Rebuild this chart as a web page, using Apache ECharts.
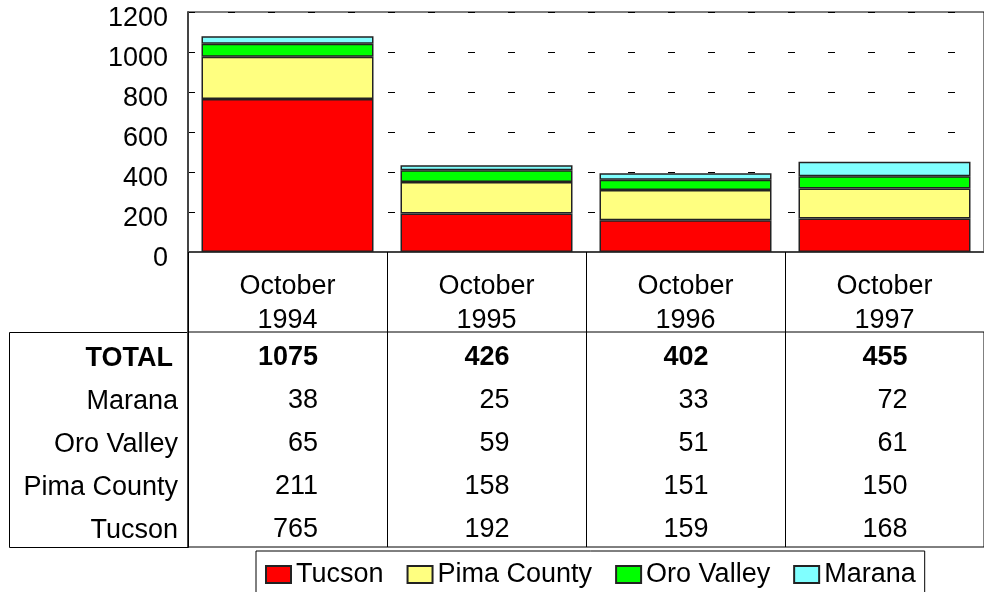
<!DOCTYPE html>
<html>
<head>
<meta charset="utf-8">
<script src="https://cdn.jsdelivr.net/npm/echarts@6/dist/echarts.min.js"></script>
<style>
  html, body { margin: 0; padding: 0; background: #fff; }
  #chart { width: 984px; height: 592px; }
</style>
</head>
<body>
<div id="chart"></div>
<script>
const months = ['October\n1994', 'October\n1995', 'October\n1996', 'October\n1997']
const rowNames = ['TOTAL', 'Marana', 'Oro Valley', 'Pima County', 'Tucson']

const tucson = [765, 192, 159, 168]
const pimaCounty = [211, 158, 151, 150]
const oroValley = [65, 59, 51, 61]
const marana = [38, 25, 33, 72]
const total = [1075, 426, 402, 455]

const yTicks = { min: 0, max: 1200, interval: 200 }

const FONT = 'Liberation Sans, Arial, sans-serif'
const FS = 27

// table rows, same order as rowNames
const tableRows = [total, marana, oroValley, pimaCounty, tucson]

// numbers sit right aligned in a block as wide as the widest number of the column
const ctx = document.createElement('canvas').getContext('2d')
ctx.font = 'bold ' + FS + 'px ' + FONT
const colWidth = months.map((m, ci) => {
  let w = 0
  tableRows.forEach(r => { w = Math.max(w, ctx.measureText(String(r[ci])).width) })
  return Math.ceil(w)
})

const cells = []
tableRows.forEach((row, ri) => {
  row.forEach((v, ci) => {
    cells.push({
      value: [ci, ri, v],
      label: {
        rich: {
          n: { width: colWidth[ci], align: 'right', fontSize: FS, fontFamily: FONT, color: '#000' },
          t: { width: colWidth[ci], align: 'right', fontSize: FS, fontFamily: FONT, color: '#000', fontWeight: 'bold' }
        }
      }
    })
  })
})

const barStyle = (color) => ({ color: color, borderColor: '#222', borderWidth: 1.5 })

const chart = echarts.init(document.getElementById('chart'))

chart.setOption({
  animation: false,
  textStyle: { fontFamily: FONT, color: '#000' },
  grid: [
    { left: 188, top: 12, width: 807, height: 240, show: true, borderColor: '#000', borderWidth: 1 },
    { left: 188, top: 332, width: 807, height: 215, show: true, borderColor: '#000', borderWidth: 1 }
  ],
  xAxis: [
    {
      type: 'category',
      gridIndex: 0,
      data: months,
      axisLine: { lineStyle: { color: '#444', width: 2 } },
      axisTick: { show: true, interval: 0, length: 80, lineStyle: { color: '#000', width: 1 } },
      axisLabel: { interval: 0, fontSize: FS, lineHeight: 34, margin: 18, color: '#000', fontFamily: FONT }
    },
    {
      type: 'category',
      gridIndex: 1,
      data: months,
      axisLine: { show: false },
      axisTick: { show: false },
      axisLabel: { show: false },
      splitLine: { show: true, interval: 0, lineStyle: { color: '#000', width: 1 } }
    }
  ],
  yAxis: [
    {
      type: 'value',
      gridIndex: 0,
      min: yTicks.min,
      max: yTicks.max,
      interval: yTicks.interval,
      axisLine: { show: true, lineStyle: { color: '#444', width: 2 } },
      axisTick: { show: false },
      axisLabel: {
        margin: 20,
        formatter: (v) => '{a|' + v + '}',
        rich: { a: { fontSize: FS, fontFamily: FONT, color: '#000', padding: [13, 0, 0, 0] } }
      },
      splitLine: { show: true, lineStyle: { color: '#000', width: 1, type: [7, 33] } }
    },
    {
      type: 'category',
      gridIndex: 1,
      inverse: true,
      data: rowNames,
      axisLine: { show: false },
      axisTick: { show: false },
      axisLabel: {
        margin: 10,
        formatter: (v) => v === 'TOTAL' ? '{b|' + v + '}' : '{r|' + v + '}',
        rich: {
          b: { fontSize: FS, fontFamily: FONT, fontWeight: 'bold', color: '#000', padding: [0, 5, 0, 0], lineHeight: 38, verticalAlign: 'bottom' },
          r: { fontSize: FS, fontFamily: FONT, color: '#000', lineHeight: 38, verticalAlign: 'bottom' }
        }
      }
    }
  ],
  legend: {
    left: 256,
    top: 551,
    orient: 'horizontal',
    padding: [10, 9, 10, 9],
    itemGap: 23,
    itemWidth: 25,
    itemHeight: 17,
    icon: 'rect',
    borderColor: '#000',
    borderWidth: 1,
    selectedMode: false,
    textStyle: { fontSize: FS, fontFamily: FONT, color: '#000' },
    data: ['Tucson', 'Pima County', 'Oro Valley', 'Marana']
  },
  graphic: [
    {
      type: 'rect',
      shape: { x: 9.5, y: 332.5, width: 179, height: 215 },
      style: { fill: 'none', stroke: '#000', lineWidth: 1 },
      silent: true
    },
    {
      type: 'line',
      shape: { x1: 188, y1: 252, x2: 188, y2: 547 },
      style: { stroke: '#444', lineWidth: 2 },
      silent: true
    }
  ],
  series: [
    { name: 'Tucson', type: 'bar', stack: 'all', barWidth: 172, data: tucson, itemStyle: barStyle('#FF0000') },
    { name: 'Pima County', type: 'bar', stack: 'all', barWidth: 172, data: pimaCounty, itemStyle: barStyle('#FFFF80') },
    { name: 'Oro Valley', type: 'bar', stack: 'all', barWidth: 172, data: oroValley, itemStyle: barStyle('#00FF00') },
    { name: 'Marana', type: 'bar', stack: 'all', barWidth: 172, data: marana, itemStyle: barStyle('#80FFFF') },
    {
      name: 'table',
      type: 'scatter',
      xAxisIndex: 1,
      yAxisIndex: 1,
      symbolSize: 0,
      silent: true,
      itemStyle: { opacity: 1 },
      data: cells,
      label: {
        show: true,
        position: 'inside',
        offset: [0, 4],
        color: '#000',
        opacity: 1,
        formatter: (p) => (p.value[1] === 0 ? '{t|' : '{n|') + p.value[2] + '}'
      }
    }
  ]
})
</script>
</body>
</html>
